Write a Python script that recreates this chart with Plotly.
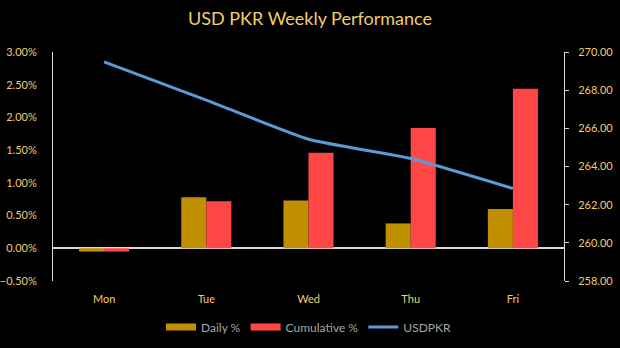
import plotly.graph_objects as go

days = ["Mon", "Tue", "Wed", "Thu", "Fri"]
daily_pct = [-0.0005, 0.0078, 0.0073, 0.0038, 0.0060]
cumulative_pct = [-0.0005, 0.0072, 0.0146, 0.0184, 0.0244]
usdpkr = [269.48, 267.48, 265.43, 264.42, 262.85]

gold_text = "#F2CD6B"
daily_color = "#BF8F00"
cum_color = "#FF4747"
line_color = "#5B9BD5"

fig = go.Figure()
fig.add_trace(go.Bar(x=days, y=daily_pct, name="Daily %", marker_color=daily_color,
                     marker_line_width=0, yaxis="y", showlegend=False))
fig.add_trace(go.Bar(x=days, y=cumulative_pct, name="Cumulative %", marker_color=cum_color,
                     marker_line_width=0, yaxis="y", showlegend=False))
fig.add_trace(go.Scatter(x=days, y=usdpkr, name="USDPKR", mode="lines",
                         line=dict(color=line_color, width=3, shape="spline", smoothing=0.5),
                         yaxis="y2", showlegend=False))

# legend entries drawn as wide swatches
for name, color, width in [("Daily %", daily_color, 7), ("Cumulative %", cum_color, 7),
                           ("USDPKR", line_color, 3)]:
    fig.add_trace(go.Scatter(x=[None], y=[None], name=name, mode="lines",
                             line=dict(color=color, width=width), yaxis="y2"))

fig.update_layout(
    width=620, height=348,
    paper_bgcolor="black", plot_bgcolor="black",
    margin=dict(l=53, r=56, t=52, b=67, autoexpand=False),
    font=dict(family="Lato", color=gold_text, size=11),
    title=dict(text="USD PKR Weekly Performance", x=0.5, xanchor="center",
               y=0.945, yanchor="middle", font=dict(size=18, color=gold_text)),
    barmode="group", bargap=0.51, bargroupgap=0,
    showlegend=True,
    legend=dict(orientation="h", x=0.5, xanchor="center", yref="container", y=0.06,
                yanchor="middle", font=dict(color="#A6A6A6", size=12),
                bgcolor="rgba(0,0,0,0)", itemwidth=30, traceorder="normal"),
    xaxis=dict(showgrid=False, showline=False, ticks="", tickfont=dict(color=gold_text, size=11),
               ticklabelstandoff=10),
    yaxis=dict(range=[-0.005, 0.03], dtick=0.005, tickformat=".2%", showgrid=False,
               zeroline=True, zerolinecolor="#D9D9D9", zerolinewidth=1.5,
               showline=True, linecolor="#D9D9D9", linewidth=1, ticks="",
               tickfont=dict(color=gold_text, size=11), ticklabelstandoff=13),
    yaxis2=dict(range=[258, 270], dtick=2, tickformat=".2f", overlaying="y", side="right",
                showgrid=False, zeroline=False, showline=True, linecolor="#D9D9D9",
                linewidth=1, ticks="outside", ticklen=4, tickcolor="#D9D9D9",
                tickfont=dict(color=gold_text, size=11), ticklabelstandoff=7),
)

fig.write_html("out.html")
